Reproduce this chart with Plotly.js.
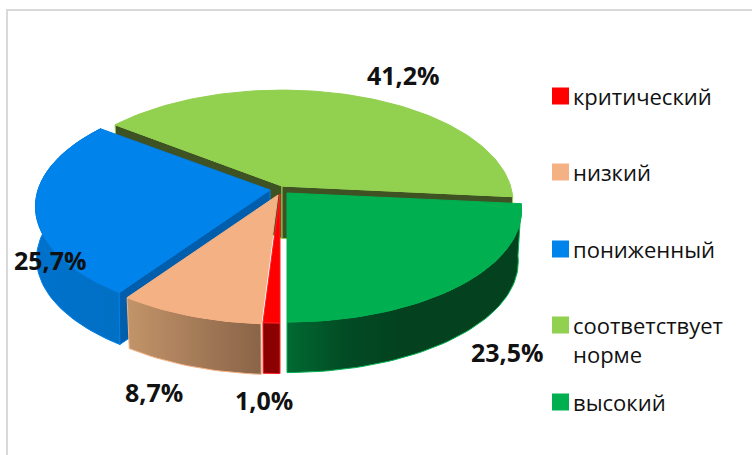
<!DOCTYPE html>
<html><head><meta charset="utf-8">
<script src="https://cdn.plot.ly/plotly-3.0.1.min.js"></script>
<style>html,body{margin:0;padding:0;background:#fff}#c{width:752px;height:455px}</style>
</head><body><div id="c"></div>
<script>
// Data
const categories = ['критический','низкий','пониженный','соответствует<br>норме','высокий'];
const values = [1.0, 8.7, 25.7, 41.2, 23.5];

// Style
const topColors  = ['#FF0000','#F4B183','#0083EA','#92D050','#00B050'];
const edgeColors = ['#FF2020','#F4B183','#0080E8','#92D050','#00B050'];
const sideScales = [
  [[0,'#8B0000'],[1,'#8B0000']],
  [[0,'#C29469'],[1,'#8A6448']],
  [[0,'#0072CC'],[1,'#0070C4']],
  [[0,'#3F5223'],[1,'#3F5223']],
  [[0,'#016A32'],[0.25,'#024B24'],[0.5,'#03411F'],[1,'#03411F']]
];
const cutColors = ['#8B0000','#A87C58','#005EAD','#3F5223','#03411F'];
const apexX = [280, 278, 270, 282, 287];
const apexY = [194, 195, 190, 186, 193];
const widthScale = [1, 1, 1, 0.985, 1];
const bottomShrink = [0.986, 0.986, 0.995, 0.986, 0.986];
const labelX = [264, 154, 50, 403, 507];
const labelY = [400, 392, 260, 75, 352];
const legendY = [96, 172, 249, 325, 402];
const startAngle = 180, rx = 232, ry = 110, persp = 0.147, depth = 52.4;

// Projection of a pie rim onto the picture
const total = values.reduce((a,b)=>a+b,0);
function rim(i, deg, bottom){
  const t = deg*Math.PI/180, u = Math.sin(t), v = Math.cos(t), s = 1/(1+persp*v);
  const f = bottom ? bottomShrink[i] : 1, d = bottom ? depth : 0;
  return [apexX[i] + f*rx*widthScale[i]*u*s, apexY[i] + d - f*ry*v*s];
}
function arc(i, a, b, bottom){
  const pts = [], n = Math.max(2, Math.ceil((b-a)/1.5));
  for(let k=0;k<=n;k++) pts.push(rim(i, a+(b-a)*k/n, bottom));
  return pts;
}
const ranges = []; let acc = startAngle;
values.forEach(v=>{ const e = acc + v/total*360; ranges.push([acc,e]); acc = e; });

function poly(pts, extra){
  return Object.assign({
    type:'scatter', mode:'lines', x:pts.map(p=>p[0]), y:pts.map(p=>p[1]),
    fill:'toself', hoverinfo:'skip', showlegend:false
  }, extra);
}
const traces = [];
function addCut(i, deg){
  const c = rim(i, deg, false), cb = rim(i, deg, true);
  const a = [apexX[i], apexY[i]], ab = [apexX[i], apexY[i]+depth];
  traces.push(poly([a,c,cb,ab,a], {fillcolor:cutColors[i], line:{color:edgeColors[i],width:1}}));
}
function addSide(i){
  const [a,b] = ranges[i];
  const front = arc(i,a,b,false), back = arc(i,a,b,true).reverse();
  traces.push(poly(front.concat(back,[front[0]]), {
    fillcolor:cutColors[i],
    fillgradient:{type:'horizontal', colorscale:sideScales[i]},
    line:{color:edgeColors[i],width:1}
  }));
}
function addTop(i){
  const [a,b] = ranges[i];
  const pts = [[apexX[i],apexY[i]]].concat(arc(i,a,b,false),[[apexX[i],apexY[i]]]);
  traces.push(poly(pts, {fillcolor:topColors[i], line:{color:edgeColors[i],width:1}}));
}
// back to front
addCut(3, ranges[3][0]); addCut(3, ranges[3][1]); addTop(3);
addSide(2); addCut(2, ranges[2][0]); addTop(2);
addSide(4); addTop(4);
addSide(1); addTop(1);
addSide(0); addTop(0);

// legend swatches
traces.push({
  type:'scatter', mode:'markers', x:categories.map(()=>560.5), y:legendY,
  marker:{symbol:'square', size:17, color:topColors}, hoverinfo:'skip', showlegend:false
});

const font = '"Open Sans","Noto Sans",sans-serif';
const annotations = [];
values.forEach((v,i)=>annotations.push({
  x:labelX[i], y:labelY[i], xref:'x', yref:'y', showarrow:false,
  text:'<b>'+v.toFixed(1).replace('.',',')+'%</b>',
  font:{family:font,size:25,color:'#111'}
}));
categories.forEach((c,i)=>annotations.push({
  x:571, y:legendY[i]-17, xref:'x', yref:'y', showarrow:false, xanchor:'left', yanchor:'top', align:'left',
  text:c, font:{family:font,size:22,color:'#111'}
}));

const layout = {
  width:752, height:455, margin:{l:0,r:0,t:0,b:0}, paper_bgcolor:'#fff', plot_bgcolor:'#fff',
  xaxis:{range:[0,752], visible:false, fixedrange:true},
  yaxis:{range:[455,0], visible:false, fixedrange:true},
  showlegend:false, annotations,
  shapes:[
    {type:'line',xref:'x',yref:'y',x0:7,x1:7,y0:10,y1:455,line:{color:'#D9D9D9',width:2}},
    {type:'line',xref:'x',yref:'y',x0:6,x1:752,y0:10,y1:10,line:{color:'#D9D9D9',width:2}}
  ]
};
Plotly.newPlot('c', traces, layout, {displayModeBar:false, staticPlot:true});
</script></body></html>
